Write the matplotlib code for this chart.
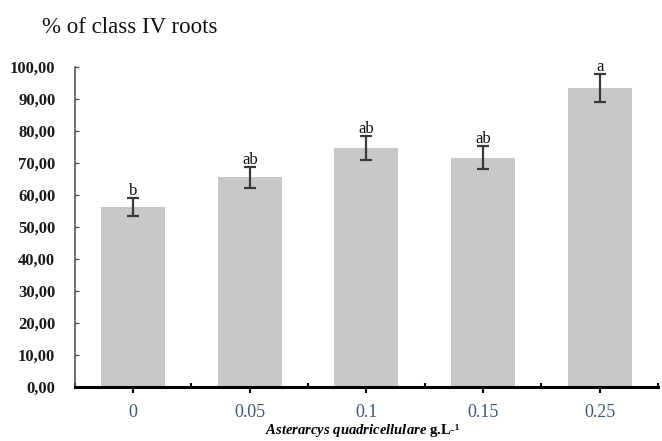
import matplotlib
matplotlib.use("Agg")
import matplotlib.pyplot as plt
import numpy as np

categories = ["0", "0.05", "0.1", "0.15", "0.25"]
values = [56.2, 65.5, 74.8, 71.7, 93.5]
errors = [2.9, 3.2, 3.8, 3.5, 4.3]
letters = ["b", "ab", "ab", "ab", "a"]
yticks = [0, 10, 20, 30, 40, 50, 60, 70, 80, 90, 100]
ytick_labels = ["0,00", "10,00", "20,00", "30,00", "40,00", "50,00",
                "60,00", "70,00", "80,00", "90,00", "100,00"]

serif = ["Liberation Serif", "DejaVu Serif"]
plt.rcParams["mathtext.fontset"] = "custom"
plt.rcParams["mathtext.it"] = "Liberation Serif:italic:bold"
plt.rcParams["mathtext.rm"] = "Liberation Serif:bold"

fig = plt.figure(figsize=(6.62, 4.41), dpi=100)
ax = fig.add_axes([0.113, 0.1224, 0.881, 0.7256])

x = np.arange(len(categories))
ax.bar(x, values, width=0.55, color="#c8c8c8", zorder=2)
ax.errorbar(x, values, yerr=errors, fmt="none", ecolor="#3a3a3a",
            elinewidth=1.6, capsize=4, capthick=1.6, zorder=3)

for xi, v, e, l in zip(x, values, errors, letters):
    ax.annotate(l, (xi, v + e), xytext=(0, 5), textcoords="offset points",
                ha="center", va="center", fontsize=12, family=serif,
                color="#111111", zorder=4)

ax.set_xlim(-0.5, len(categories) - 0.5)
ax.set_ylim(0, 100)

ax.set_xticks(x)
ax.set_xticklabels(categories, family=serif, fontsize=13, color="#3f5872")
ax.set_xticks(np.arange(len(categories) + 1) - 0.5, minor=True)
ax.tick_params(axis="x", which="major", direction="out", length=4, width=1.5,
               color="black", pad=8)
ax.tick_params(axis="x", which="minor", direction="in", length=3, width=1.5,
               color="black")

ax.set_yticks(yticks)
ax.set_yticklabels(ytick_labels, family=serif, fontsize=12,
                   fontweight="bold", color="#1a1a1a")
ax.tick_params(axis="y", direction="in", length=3, width=1.0,
               color="#555555", pad=14)

for s in ["top", "right"]:
    ax.spines[s].set_visible(False)
ax.spines["left"].set_color("#555555")
ax.spines["left"].set_linewidth(1.2)
ax.spines["bottom"].set_color("black")
ax.spines["bottom"].set_linewidth(2.2)

fig.text(0.548, 0.024, r"$\mathit{Asterarcys\ quadricellulare}$" + " g.L-¹",
         ha="center", va="center", fontsize=10.5, family=serif, fontweight="bold")

fig.text(0.063, 0.937, "% of class IV roots", ha="left", va="center",
         fontsize=16.5, family=serif, color="#111111")

fig.savefig("out.png", dpi=100)
